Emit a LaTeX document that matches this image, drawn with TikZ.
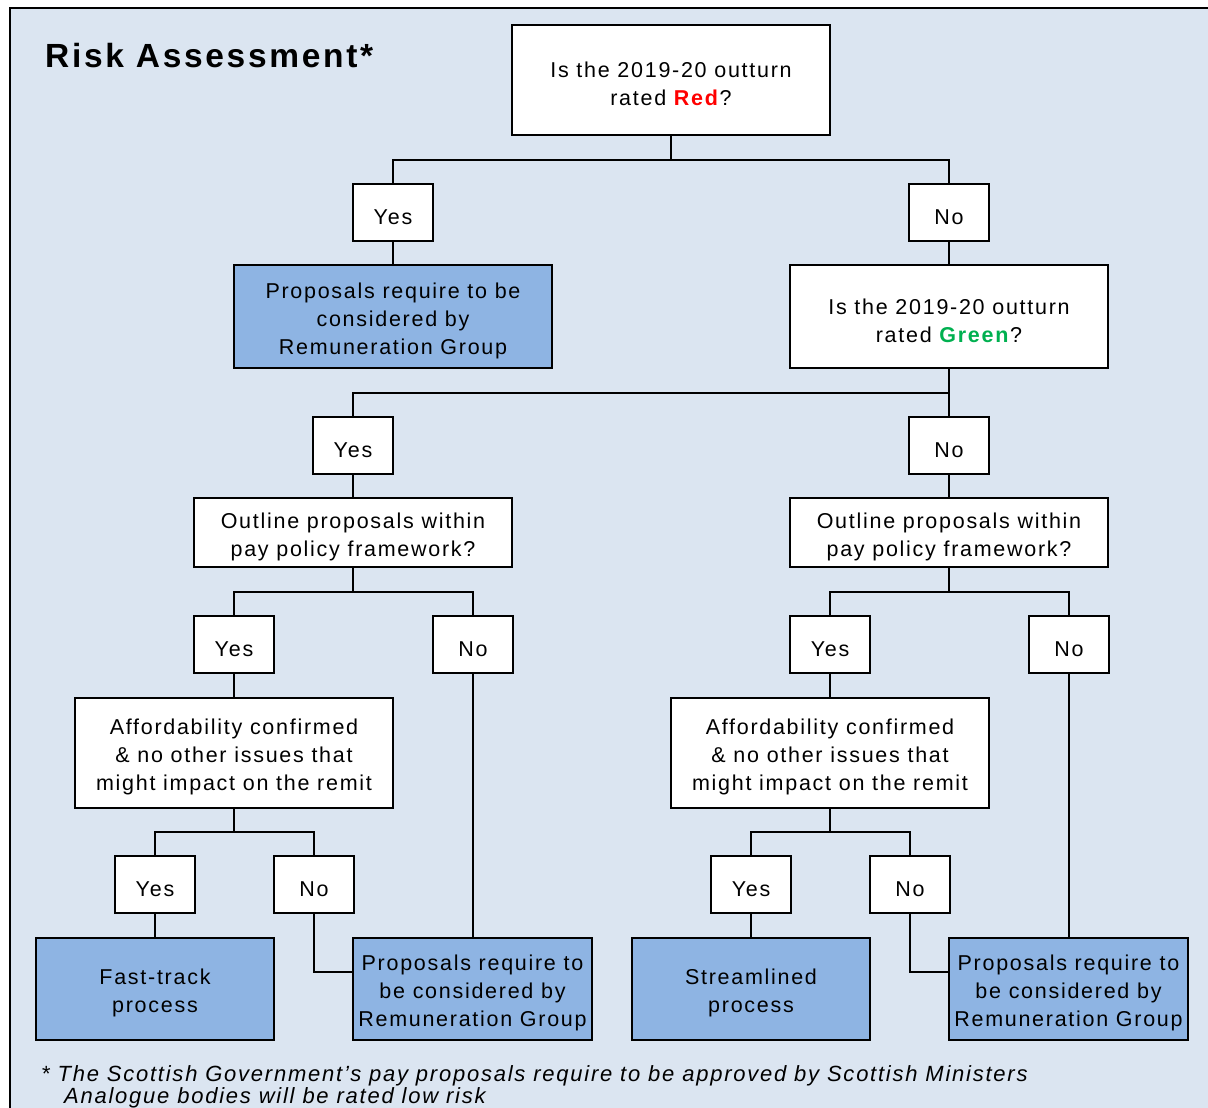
\documentclass[tikz,border=0pt]{standalone}
\usepackage{fontspec}
\setmainfont{Liberation Sans}[LetterSpace=8]
\definecolor{bgcol}{HTML}{DBE5F1}
\definecolor{bluecol}{HTML}{8EB4E3}
\definecolor{redtxt}{HTML}{FF0000}
\definecolor{greentxt}{HTML}{00B050}
\newcommand{\tl}{\rule{0pt}{24pt}}
\tikzset{
  qbox/.style={draw=black, line width=1.9pt, fill=white, align=center, inner sep=0pt,
    font=\fontsize{21.5}{28}\selectfont},
  ansbox/.style={qbox, minimum width=80pt, minimum height=57pt},
  outbox/.style={qbox, fill=bluecol},
  conn/.style={line width=2pt, draw=black},
  fnote/.style={anchor=base west, inner sep=0pt, font=\fontsize{22}{26}\selectfont\itshape},
}
\begin{document}
\begin{tikzpicture}[x=1pt,y=-1pt]
\useasboundingbox (0,0) rectangle (1208,1108);
\draw[fill=bgcol, line width=2pt] (10,8) rectangle (1240,1140);
\node[anchor=base west, font=\fontsize{33.5}{40}\selectfont\bfseries, inner sep=0pt] (title) at (45,67) {Risk Assessment*};

\node[qbox, minimum width=318pt, minimum height=110pt] (q1) at (671,80) {\tl Is the 2019-20 outturn\\rated \textcolor{redtxt}{\textbf{Red}}?};
\node[ansbox] (y1) at (393,212.5) {\tl Yes};
\node[ansbox] (n1) at (949,212.5) {\tl No};
\node[outbox, minimum width=318pt, minimum height=103pt] (r1) at (393,316.5) {\tl Proposals require to be\\considered by\\Remuneration Group};
\node[qbox, minimum width=318pt, minimum height=103pt] (q2) at (949,316.5) {\tl Is the 2019-20 outturn\\rated \textcolor{greentxt}{\textbf{Green}}?};
\node[ansbox] (y2) at (353,445.5) {\tl Yes};
\node[ansbox] (n2) at (949,445.5) {\tl No};
\node[qbox, minimum width=318pt, minimum height=69pt] (o1) at (353,532.5) {\tl Outline proposals within\\pay policy framework?};
\node[qbox, minimum width=318pt, minimum height=69pt] (o2) at (949,532.5) {\tl Outline proposals within\\pay policy framework?};
\node[ansbox] (y3) at (234,644.5) {\tl Yes};
\node[ansbox] (n3) at (473,644.5) {\tl No};
\node[ansbox] (y4) at (830,644.5) {\tl Yes};
\node[ansbox] (n4) at (1069,644.5) {\tl No};
\node[qbox, minimum width=318pt, minimum height=110pt] (a1) at (234,753) {\tl Affordability confirmed\\\& no other issues that\\might impact on the remit};
\node[qbox, minimum width=318pt, minimum height=110pt] (a2) at (830,753) {\tl Affordability confirmed\\\& no other issues that\\might impact on the remit};
\node[ansbox] (y5) at (155,884.5) {\tl Yes};
\node[ansbox] (n5) at (314,884.5) {\tl No};
\node[ansbox] (y6) at (751,884.5) {\tl Yes};
\node[ansbox] (n6) at (910,884.5) {\tl No};
\node[outbox, minimum width=238pt, minimum height=102pt] (f1) at (155,989) {\tl Fast-track\\process};
\node[outbox, minimum width=239pt, minimum height=102pt] (r2) at (472.5,989) {\tl Proposals require to\\be considered by\\Remuneration Group};
\node[outbox, minimum width=238pt, minimum height=102pt] (s1) at (751,989) {\tl Streamlined\\process};
\node[outbox, minimum width=239pt, minimum height=102pt] (r3) at (1068.5,989) {\tl Proposals require to\\be considered by\\Remuneration Group};

% connectors
\draw[conn] (q1.south) -- ++(0,24) coordinate (j1);
\draw[conn] (y1.north) |- (j1) -| (n1.north);
\draw[conn] (y1.south) -- (r1.north);
\draw[conn] (n1.south) -- (q2.north);
\draw[conn] (q2.south) -- (n2.north);
\path (q2.south) -- ++(0,24) coordinate (j2);
\draw[conn] (y2.north) |- (j2);
\draw[conn] (y2.south) -- (o1.north);
\draw[conn] (n2.south) -- (o2.north);
\draw[conn] (o1.south) -- ++(0,24) coordinate (j3);
\draw[conn] (y3.north) |- (j3) -| (n3.north);
\draw[conn] (o2.south) -- ++(0,24) coordinate (j4);
\draw[conn] (y4.north) |- (j4) -| (n4.north);
\draw[conn] (y3.south) -- (a1.north);
\draw[conn] (y4.south) -- (a2.north);
\draw[conn] (n3.south) -- (n3.south |- r2.north);
\draw[conn] (n4.south) -- (n4.south |- r3.north);
\draw[conn] (a1.south) -- ++(0,23) coordinate (j5);
\draw[conn] (y5.north) |- (j5) -| (n5.north);
\draw[conn] (a2.south) -- ++(0,23) coordinate (j6);
\draw[conn] (y6.north) |- (j6) -| (n6.north);
\draw[conn] (y5.south) -- (f1.north);
\draw[conn] (y6.south) -- (s1.north);
\draw[conn] (n5.south) |- ([yshift=17pt]r2.west);
\draw[conn] (n6.south) |- ([yshift=17pt]r3.west);

% footnote
\node[fnote] (fn1) at (41,1081) {* The Scottish Government's pay proposals require to be approved by Scottish Ministers};
\node[fnote] (fn2) at (64,1103) {Analogue bodies will be rated low risk};
\end{tikzpicture}
\end{document}
